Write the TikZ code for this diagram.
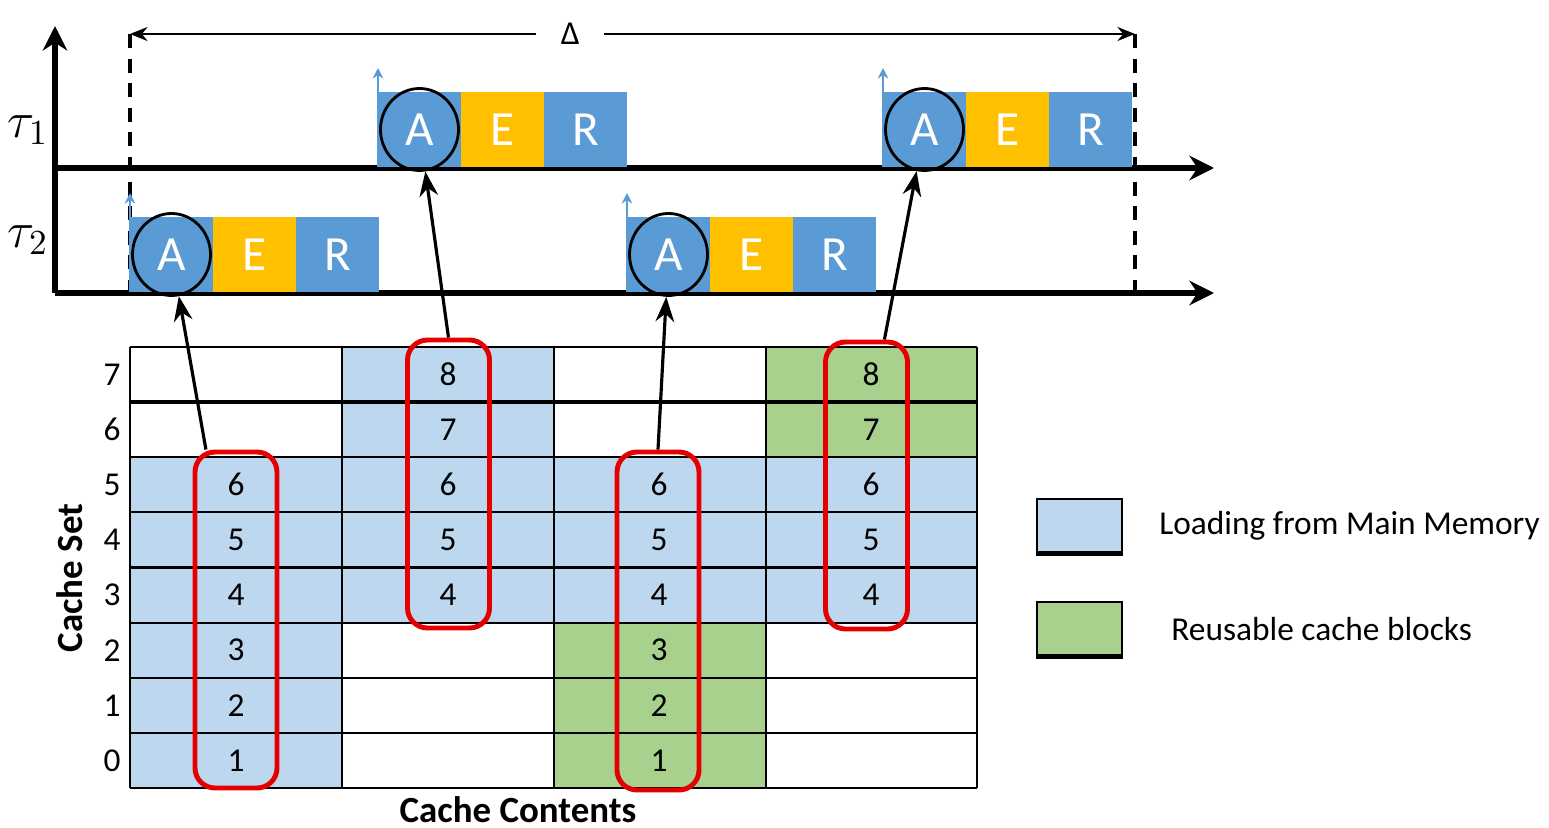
\documentclass[tikz,border=0pt]{standalone}
\usepackage{fontspec}
\setmainfont{Carlito}
\usetikzlibrary{shapes.geometric, arrows.meta, positioning}

\definecolor{jobblue}{RGB}{91,155,213}
\definecolor{jobgold}{RGB}{255,192,0}
\definecolor{loadblue}{RGB}{189,215,238}
\definecolor{reusegreen}{RGB}{169,209,142}
\definecolor{boxred}{RGB}{228,0,0}

\tikzset{
  phase/.style={minimum width=8.3mm, minimum height=7.5mm, inner sep=0pt, outer sep=0pt,
    text=white, font=\fontsize{14}{16}\selectfont},
  acq/.style={phase, fill=jobblue},
  exe/.style={phase, fill=jobgold},
  rep/.style={phase, fill=jobblue},
  ring/.style={ellipse, draw, line width=0.8pt, minimum width=7.8mm, minimum height=8.2mm, inner sep=0pt},
  release/.style={->, >={Stealth[length=3pt,width=3pt]}, jobblue, line width=0.6pt},
  access/.style={->, >=Stealth, line width=0.9pt},
  axis/.style={->, >={Stealth[length=7pt,width=7pt]}, line width=1.5pt},
  bound/.style={dashed, line width=1.1pt, dash pattern=on 4pt off 3pt},
  setbox/.style={draw=boxred, line width=1.4pt, rounded corners=2mm, inner sep=0pt, minimum width=8.2mm},
  num/.style={font=\fontsize{9.5}{11}\selectfont},
  keytext/.style={font=\fontsize{9.5}{12}\selectfont},
  keybox/.style={draw, line width=0.5pt, inner sep=0pt, minimum width=8.5mm, minimum height=5.4mm},
  axislabel/.style={font=\fontsize{10.5}{12}\selectfont\bfseries},
}

\begin{document}
\begin{tikzpicture}[x=0.1mm, y=-0.1mm]
    \useasboundingbox (0,0) rectangle (1549,828);

    % Time axes
    \coordinate (origin) at (55,293);
    \coordinate (ytop) at (55,26);
    \coordinate (t1start) at (55,168);
    \coordinate (t1end) at (1214,168);
    \coordinate (t2end) at (1214,293);
    \draw[axis] (origin) -- (ytop);
    \draw[axis] (t1start) -- (t1end);
    \draw[axis] (origin) -- (t2end);
    \node[font=\fontsize{14}{16}\selectfont] (tau1) at (28,130) {$\tau_1$};
    \node[font=\fontsize{14}{16}\selectfont] (tau2) at (28,240) {$\tau_2$};

    % Window Delta
    \coordinate (w1top) at (130,34);
    \coordinate (w1bot) at (130,293);
    \coordinate (w2top) at (1135,34);
    \coordinate (w2bot) at (1135,293);
    \draw[bound] (w1top) -- (w1bot);
    \draw[bound] (w2top) -- (w2bot);
    \draw[<->, >={Stealth[length=5pt,width=4pt]}, line width=0.6pt] (w1top) -- (w2top)
        node[pos=0.438, fill=white, inner xsep=7pt, font=\fontsize{9.5}{11}\selectfont] (delta) {Δ};

    % Jobs of tau_1
    \node[acq, anchor=south west] (t1a1) at (378,167) {A};
    \node[exe, right=0pt of t1a1] (t1e1) {E};
    \node[rep, right=0pt of t1e1] (t1r1) {R};
    \node[ring] (t1c1) at (t1a1) {};
    \draw[release] (t1a1.south west) -- ++(0,-99);

    \node[acq, anchor=south west] (t1a2) at (883,167) {A};
    \node[exe, right=0pt of t1a2] (t1e2) {E};
    \node[rep, right=0pt of t1e2] (t1r2) {R};
    \node[ring] (t1c2) at (t1a2) {};
    \draw[release] (t1a2.south west) -- ++(0,-99);

    % Jobs of tau_2
    \node[acq, anchor=south west] (t2a1) at (130,292) {A};
    \node[exe, right=0pt of t2a1] (t2e1) {E};
    \node[rep, right=0pt of t2e1] (t2r1) {R};
    \node[ring] (t2c1) at (t2a1) {};
    \draw[release] (t2a1.south west) -- ++(0,-99);

    \node[acq, anchor=south west] (t2a2) at (627,292) {A};
    \node[exe, right=0pt of t2a2] (t2e2) {E};
    \node[rep, right=0pt of t2e2] (t2r2) {R};
    \node[ring] (t2c2) at (t2a2) {};
    \draw[release] (t2a2.south west) -- ++(0,-99);

    % Cache contents
    \fill[loadblue] (130,457.25) rectangle (342,788);
    \fill[loadblue] (342,347) rectangle (554,622.6);
    \fill[loadblue] (554,457.25) rectangle (766,622.6);
    \fill[reusegreen] (554,622.6) rectangle (766,788);
    \fill[reusegreen] (766,347) rectangle (977,457.25);
    \fill[loadblue] (766,457.25) rectangle (977,622.6);
    \foreach \r in {0,...,8}
        \draw[line width=0.6pt] (130,{788-55.125*\r}) -- (977,{788-55.125*\r});
    \foreach \x in {130,342,554,766,977}
        \draw[line width=0.6pt] (\x,347) -- (\x,788);
    \draw[line width=1.3pt] (130,402.1) -- (977,402.1);

    \foreach \r in {0,...,7}
        \node[num] (row\r) at (112,{788-55.125*(\r+0.5)}) {\r};
    \foreach \n in {1,...,6} {
        \node[num] (ca\n) at (236,{788-55.125*(\n-0.5)}) {\n};
        \node[num] (cc\n) at (659,{788-55.125*(\n-0.5)}) {\n};
    }
    \foreach \n in {4,...,8} {
        \node[num] (cb\n) at (448,{788-55.125*(\n-0.5)}) {\n};
        \node[num] (cd\n) at (871,{788-55.125*(\n-0.5)}) {\n};
    }

    \node[axislabel, rotate=90] (setlabel) at (70,578) {Cache Set};
    \node[axislabel] (contlabel) at (518,810) {Cache Contents};

    % Accessed blocks
    \node[setbox, minimum height=33.6mm] (use1) at (236,620) {};
    \node[setbox, minimum height=28.8mm] (use2) at (448.5,484) {};
    \node[setbox, minimum height=33.8mm] (use3) at (658,621) {};
    \node[setbox, minimum height=28.7mm] (use4) at (866.5,485.5) {};

    \draw[access] (use1.100) -- (t2c1);
    \draw[access] (use2.north) -- (t1c1);
    \draw[access] (use3.north) -- (t2c2);
    \draw[access] (use4.83) -- (t1c2);

    % Legend
    \node[keybox, fill=loadblue] (keyload) at (1079.5,526) {};
    \draw[line width=1.4pt] (keyload.south west) -- (keyload.south east);
    \node[keytext, right=2.4mm of keyload] (keyloadtxt) {Loading from Main Memory};
    \node[keybox, fill=reusegreen] (keyreuse) at (1079.5,629) {};
    \draw[line width=1.4pt] (keyreuse.south west) -- (keyreuse.south east);
    \node[keytext, right=3.6mm of keyreuse] (keyreusetxt) {Reusable cache blocks};
\end{tikzpicture}
\end{document}
